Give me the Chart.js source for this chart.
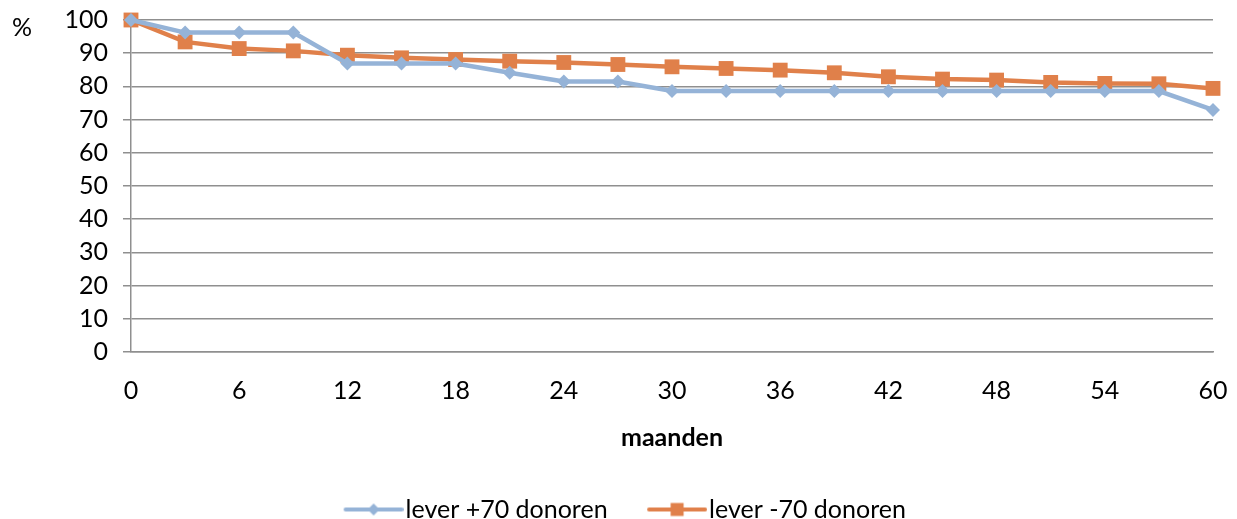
<!DOCTYPE html>
<html>
<head>
<meta charset="utf-8">
<script src="https://cdn.jsdelivr.net/npm/chart.js@4"></script>
<style>
  html, body { margin: 0; padding: 0; background: #fff; }
  #wrap { width: 1237px; height: 519px; }
</style>
</head>
<body>
<div id="wrap"><canvas id="c" width="1237" height="519"></canvas></div>
<script>
// Survival after liver transplant, by donor age group (% per month)
const months = [0, 3, 6, 9, 12, 15, 18, 21, 24, 27, 30, 33, 36, 39, 42, 45, 48, 51, 54, 57, 60];
const leverPlus70 = [100, 96.2, 96.2, 96.2, 86.9, 86.9, 86.9, 84.1, 81.5, 81.5, 78.6, 78.6, 78.6, 78.6, 78.6, 78.6, 78.6, 78.6, 78.6, 78.6, 72.9];
const leverMin70 = [100, 93.4, 91.4, 90.7, 89.4, 88.6, 88.1, 87.6, 87.2, 86.6, 85.9, 85.4, 84.9, 84.1, 82.9, 82.2, 81.9, 81.2, 80.9, 80.8, 79.4];
const xTickLabels = [0, 6, 12, 18, 24, 30, 36, 42, 48, 54, 60];
const yTickLabels = [0, 10, 20, 30, 40, 50, 60, 70, 80, 90, 100];
const seriesNames = ['lever +70 donoren', 'lever -70 donoren'];

const BLUE = '#95B3D7';
const ORANGE = '#E0804A';
const GRID = '#8f8f8f';
const FONT = 'Lato, "Open Sans", sans-serif';
const FS = 25;

// legend symbol: short line with the series marker in the middle,
// preceded by empty space that separates the legend entries
const SYM_LEAD = 48, SYM_LEN = 60;
function legendSymbol(color, shape) {
  const cv = document.createElement('canvas');
  cv.width = SYM_LEAD + SYM_LEN; cv.height = 16;
  const g = cv.getContext('2d');
  g.strokeStyle = color; g.lineWidth = 4; g.lineCap = 'round';
  g.beginPath(); g.moveTo(SYM_LEAD + 2, 8); g.lineTo(SYM_LEAD + SYM_LEN - 2, 8); g.stroke();
  g.fillStyle = color;
  const cx = SYM_LEAD + SYM_LEN / 2;
  g.beginPath();
  if (shape === 'diamond') {
    g.moveTo(cx, 2); g.lineTo(cx + 6, 8); g.lineTo(cx, 14); g.lineTo(cx - 6, 8);
  } else {
    g.rect(cx - 6.5, 1.5, 13, 13);
  }
  g.closePath(); g.fill();
  return cv;
}

const pctLabel = {
  id: 'pctLabel',
  afterDraw(chart) {
    const ctx = chart.ctx;
    ctx.save();
    ctx.font = FS + 'px ' + FONT;
    ctx.fillStyle = '#000';
    ctx.textAlign = 'left';
    ctx.textBaseline = 'middle';
    ctx.fillText('%', 12, 28);
    ctx.restore();
  }
};

const symbols = [legendSymbol(BLUE, 'diamond'), legendSymbol(ORANGE, 'square')];

new Chart(document.getElementById('c'), {
  type: 'line',
  data: {
    datasets: [
      {
        label: seriesNames[0],
        data: months.map((m, i) => ({ x: m, y: leverPlus70[i] })),
        borderColor: BLUE, backgroundColor: BLUE,
        borderWidth: 4.5, pointStyle: 'rectRot', pointRadius: 7,
        pointBorderWidth: 0, pointHoverRadius: 7, tension: 0, clip: false
      },
      {
        label: seriesNames[1],
        data: months.map((m, i) => ({ x: m, y: leverMin70[i] })),
        borderColor: ORANGE, backgroundColor: ORANGE,
        borderWidth: 4.5, pointStyle: 'rect', pointRadius: 10.5,
        pointBorderWidth: 0, pointHoverRadius: 10.5, tension: 0, clip: false
      }
    ]
  },
  options: {
    responsive: false,
    animation: false,
    layout: { autoPadding: false, padding: { top: 20, right: 24, left: -1, bottom: -13 } },
    plugins: {
      tooltip: { enabled: false },
      legend: {
        position: 'bottom',
        labels: {
          usePointStyle: true,
          pointStyleWidth: 87,
          boxHeight: 16,
          padding: 2,
          color: '#000',
          font: { family: FONT, size: FS },
          generateLabels: (chart) => chart.data.datasets.map((d, i) => ({
            text: d.label, pointStyle: symbols[i], datasetIndex: i,
            fillStyle: d.borderColor, strokeStyle: d.borderColor, lineWidth: 0, hidden: false
          }))
        }
      }
    },
    scales: {
      x: {
        type: 'linear', min: 0, max: 60,
        afterBuildTicks: (s) => { s.ticks = xTickLabels.map(v => ({ value: v })); },
        afterFit: (s) => { s.height = 143; },
        grid: { display: false, drawTicks: true, tickLength: 22 },
        border: { display: true, color: GRID, width: 1.5 },
        ticks: { color: '#000', padding: 2, maxRotation: 0, autoSkip: false, font: { family: FONT, size: FS } },
        title: { display: true, text: 'maanden', color: '#000', padding: { top: 10, bottom: 42 },
                 font: { family: FONT, size: FS, weight: 'bold' } }
      },
      y: {
        min: 0, max: 100,
        afterBuildTicks: (s) => { s.ticks = yTickLabels.map(v => ({ value: v })); },
        afterFit: (s) => { s.width = 132; },
        grid: { color: GRID, lineWidth: 1.5, tickLength: 8, drawTicks: true },
        border: { display: true, color: GRID, width: 1.5 },
        ticks: { color: '#000', padding: 15, autoSkip: false, font: { family: FONT, size: FS, lineHeight: 0.4 } }
      }
    }
  },
  plugins: [pctLabel]
});
</script>
</body>
</html>
